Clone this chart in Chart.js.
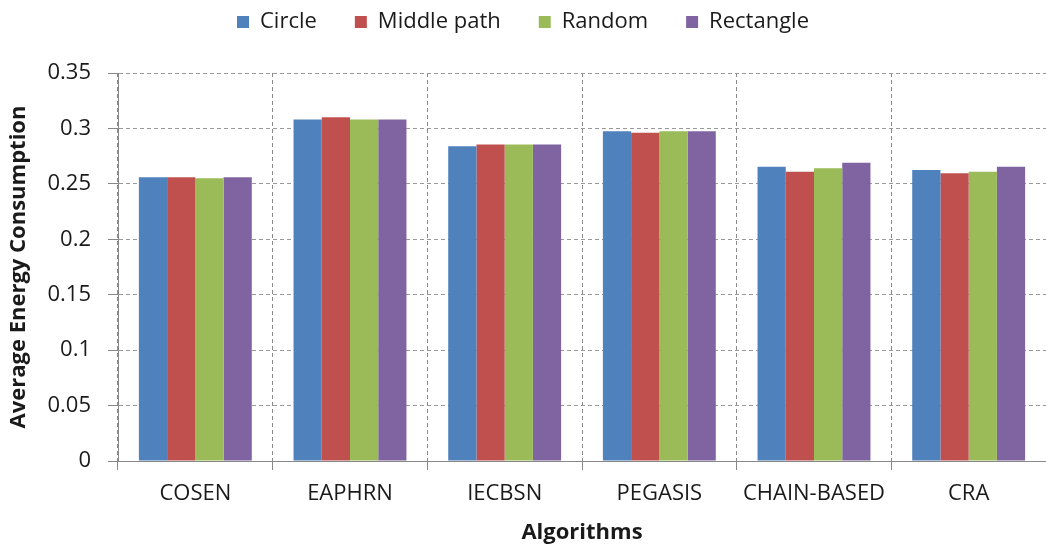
<!DOCTYPE html>
<html>
<head>
<meta charset="utf-8">
<script src="https://cdn.jsdelivr.net/npm/chart.js@4.4.0/dist/chart.umd.min.js"></script>
<style>
  html, body { margin: 0; padding: 0; background: #fff; }
  canvas { display: block; }
</style>
</head>
<body>
<canvas id="chart" width="1046" height="548"></canvas>
<script>
// data
const algorithms = ['COSEN', 'EAPHRN', 'IECBSN', 'PEGASIS', 'CHAIN-BASED', 'CRA'];
const circle     = [0.256, 0.308, 0.284, 0.2975, 0.2655, 0.2625];
const middlePath = [0.256, 0.310, 0.2855, 0.296, 0.261, 0.2595];
const random     = [0.255, 0.308, 0.2855, 0.2975, 0.264, 0.261];
const rectangle  = [0.256, 0.308, 0.2855, 0.2975, 0.269, 0.2655];
const yTicks = [0, 0.05, 0.1, 0.15, 0.2, 0.25, 0.3, 0.35];

const FONT = "'Open Sans', sans-serif";
const TEXT = '#1a1a1a';

// legend: fixed block height, items pulled up to the top of the picture
const legendSpacer = {
    id: 'legendSpacer',
    beforeInit(chart) {
        const fit = chart.legend.fit;
        chart.legend.fit = function () {
            fit.call(this);
            this.height = 73;
        };
    },
    afterLayout(chart) {
        chart.legend.top = -27;
    }
};

new Chart(document.getElementById('chart'), {
    type: 'bar',
    data: {
        labels: algorithms,
        datasets: [
            { label: 'Circle', data: circle, backgroundColor: '#4F81BD' },
            { label: 'Middle path', data: middlePath, backgroundColor: '#C0504D' },
            { label: 'Random', data: random, backgroundColor: '#9BBB59' },
            { label: 'Rectangle', data: rectangle, backgroundColor: '#8064A2' },
        ]
    },
    options: {
        responsive: false,
        animation: false,
        devicePixelRatio: 1,
        layout: { padding: 0 },
        datasets: {
            bar: { categoryPercentage: 0.73, barPercentage: 1.0, borderWidth: 0 }
        },
        plugins: {
            legend: {
                position: 'top',
                labels: {
                    boxWidth: 12,
                    boxHeight: 12,
                    padding: 38,
                    color: TEXT,
                    font: { family: FONT, size: 22 }
                }
            },
            tooltip: { enabled: false }
        },
        scales: {
            x: {
                afterFit(scale) { scale.height = 87; },
                grid: {
                    color: '#8a8a8a',
                    tickColor: '#888',
                    tickLength: 9,
                    offset: true
                },
                border: { color: '#888', width: 1, dash: [4, 3] },
                ticks: {
                    padding: 11,
                    color: TEXT,
                    font: { family: FONT, size: 22 },
                    maxRotation: 0
                },
                title: {
                    display: true,
                    text: 'Algorithms',
                    color: TEXT,
                    padding: { top: 2, bottom: 2 },
                    font: { family: FONT, size: 22, weight: 'bold' }
                }
            },
            y: {
                min: 0,
                max: 0.35,
                afterFit(scale) { scale.width = 118; },
                afterBuildTicks(scale) {
                    scale.ticks = yTicks.map(v => ({ value: v }));
                },
                grid: {
                    color: '#999',
                    tickColor: '#888',
                    tickLength: 10
                },
                border: { color: '#888', width: 1, dash: [4, 3] },
                ticks: {
                    padding: 17,
                    color: TEXT,
                    font: { family: FONT, size: 22 },
                    callback: v => String(v)
                },
                title: {
                    display: true,
                    text: 'Average Energy Consumption',
                    color: TEXT,
                    padding: { top: 6, bottom: 6 },
                    font: { family: FONT, size: 22, weight: 'bold' }
                }
            }
        }
    },
    plugins: [legendSpacer]
});
</script>
</body>
</html>
